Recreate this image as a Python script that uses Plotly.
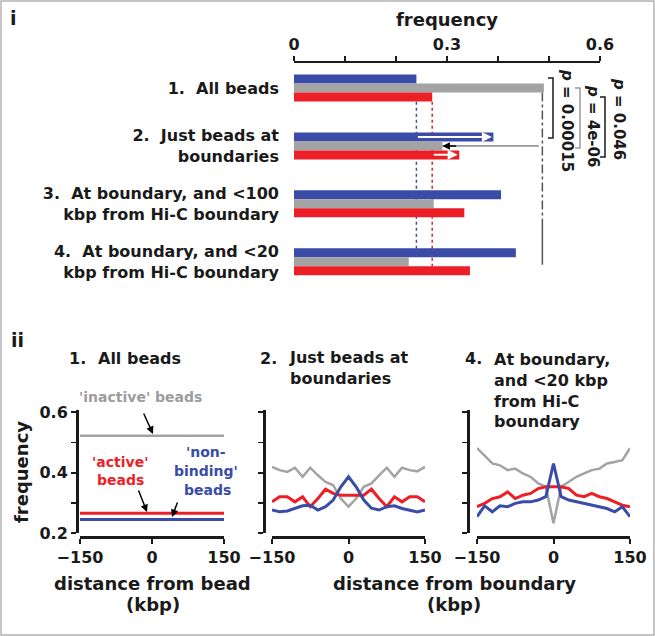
import plotly.graph_objects as go

W, H = 655, 636
def px(x): return x / W
def py(y): return 1 - y / H

FONT = "DejaVu Sans"
BLACK = "#1a1a1a"
BLUE = "#3a4ba8"
RED = "#ec1f27"
GRAY = "#a3a3a3"

# ---------------- data: panel i (bars) ----------------
groups = [1, 2, 3, 4]
group_labels = [
    "1.\u00a0\u00a0All beads",
    "2.\u00a0\u00a0Just beads at<br>boundaries",
    "3.\u00a0\u00a0At boundary, and &lt;100<br>kbp from Hi-C boundary",
    "4.\u00a0\u00a0At boundary, and &lt;20<br>kbp from Hi-C boundary",
]
nonbinding_freq = [0.240, 0.391, 0.406, 0.435]
inactive_freq = [0.490, 0.291, 0.274, 0.225]
active_freq = [0.271, 0.324, 0.334, 0.345]
p_labels = ["<i>p</i> = 0.00015", "<i>p</i> = 4e-06", "<i>p</i> = 0.046"]

# ---------------- data: panel ii (profiles) ----------------
dist = [-150, -135, -120, -105, -90, -75, -60, -45, -30, -15, 0,
        15, 30, 45, 60, 75, 90, 105, 120, 135, 150]
p1_x = [-150, 150]
p1_inactive = [0.522, 0.522]
p1_active = [0.265, 0.265]
p1_nonbinding = [0.245, 0.245]

p2_inactive = [0.419, 0.408, 0.402, 0.416, 0.386, 0.416, 0.391, 0.369, 0.358, 0.314, 0.287,
               0.314, 0.353, 0.364, 0.391, 0.416, 0.386, 0.416, 0.408, 0.404, 0.419]
p2_nonbinding = [0.276, 0.270, 0.273, 0.281, 0.290, 0.292, 0.276, 0.287, 0.309, 0.353, 0.386,
                 0.353, 0.309, 0.282, 0.276, 0.287, 0.290, 0.281, 0.276, 0.270, 0.276]
p2_active = [0.303, 0.320, 0.320, 0.303, 0.320, 0.287, 0.314, 0.345, 0.331, 0.325, 0.325,
             0.325, 0.325, 0.345, 0.314, 0.287, 0.320, 0.303, 0.320, 0.320, 0.303]

p4_inactive = [0.481, 0.457, 0.430, 0.424, 0.408, 0.413, 0.397, 0.386, 0.364, 0.353, 0.232,
               0.353, 0.369, 0.386, 0.397, 0.408, 0.413, 0.430, 0.435, 0.441, 0.481]
p4_nonbinding = [0.254, 0.290, 0.270, 0.290, 0.287, 0.298, 0.303, 0.303, 0.309, 0.320, 0.430,
                 0.320, 0.309, 0.303, 0.298, 0.292, 0.287, 0.281, 0.270, 0.287, 0.254]
p4_active = [0.287, 0.298, 0.314, 0.320, 0.336, 0.314, 0.325, 0.331, 0.347, 0.353, 0.353,
             0.353, 0.347, 0.325, 0.320, 0.331, 0.320, 0.314, 0.303, 0.292, 0.287]

fig = go.Figure()

# ---------------- panel i bars ----------------
for vals, col in [(nonbinding_freq, BLUE), (inactive_freq, GRAY), (active_freq, RED)]:
    fig.add_trace(go.Bar(y=groups, x=vals, orientation="h", marker=dict(color=col, line=dict(width=0)),
                         xaxis="x", yaxis="y", showlegend=False, hoverinfo="skip"))

# ---------------- panel ii lines ----------------
def add_lines(xs, ys_list, xa, ya, widths):
    for ys, col, w in zip(ys_list, [GRAY, RED, BLUE], widths):
        fig.add_trace(go.Scatter(x=xs, y=ys, mode="lines", line=dict(color=col, width=w),
                                 xaxis=xa, yaxis=ya, showlegend=False, hoverinfo="skip"))

add_lines(p1_x, [p1_inactive, p1_active, p1_nonbinding], "x2", "y2", [2.5, 3, 3])
add_lines(dist, [p2_inactive, p2_active, p2_nonbinding], "x3", "y3", [2.5, 3, 3])
add_lines(dist, [p4_inactive, p4_active, p4_nonbinding], "x4", "y4", [2.5, 3, 3])

tickfont = dict(family=FONT, size=16, color=BLACK, weight="bold")

layout = dict(
    width=W, height=H, margin=dict(l=0, r=0, t=0, b=0, pad=0, autoexpand=False),
    autosize=False, showlegend=False,
    paper_bgcolor="white", plot_bgcolor="rgba(0,0,0,0)",
    barmode="group", bargap=0.534, bargroupgap=0,
    xaxis=dict(domain=[px(294), px(600)], range=[0, 0.6], side="top", anchor="y", automargin=False,
               showline=True, linecolor=BLACK, linewidth=2, showgrid=False, zeroline=False,
               tickvals=[0, 0.3, 0.6], ticktext=["0", "0.3", "0.6"], ticks="outside", ticklen=5,
               tickwidth=2, tickcolor=BLACK, tickfont=tickfont,
               minor=dict(tickvals=[0.1, 0.2, 0.4, 0.5], ticks="outside", ticklen=5, tickwidth=1.5,
                          tickcolor=BLACK)),
    yaxis=dict(domain=[py(285), py(63)], range=[4.4, 0.57], anchor="x", showline=False, automargin=False,
               showgrid=False, zeroline=False, tickvals=groups, ticktext=group_labels,
               ticks="", tickfont=tickfont, ticklabelstandoff=14),
)

def bottom_axes(n, xd, yline, xline, labels):
    layout[f"xaxis{n}"] = dict(domain=[px(xd[0]), px(xd[1])], range=[-150, 150], anchor="free",
                               position=py(yline), showline=True, linecolor=BLACK, linewidth=3,
                               showgrid=False, zeroline=False, tickvals=[-150, 0, 150], automargin=False,
                               ticks="outside", ticklen=5, tickwidth=2, tickcolor=BLACK,
                               tickfont=tickfont)
    layout[f"yaxis{n}"] = dict(domain=[py(533), py(410)], range=[0.2, 0.607], anchor="free",
                               position=px(xline), showline=True, linecolor=BLACK, linewidth=3,
                               showgrid=False, zeroline=False, tickvals=[0.2, 0.4, 0.6], automargin=False,
                               ticks="outside", ticklen=5, tickwidth=2, tickcolor=BLACK,
                               tickfont=tickfont, showticklabels=labels,
                               minor=dict(tickvals=[0.3, 0.5], ticks="outside", ticklen=5,
                                          tickwidth=1.5, tickcolor=BLACK))

bottom_axes(2, (80, 224), 537, 77, True)
bottom_axes(3, (272, 425), 537, 264, False)
bottom_axes(4, (477, 630), 537, 468, False)

fig.update_layout(**layout)

# ---------------- shapes ----------------
shapes = []
# frame
shapes.append(dict(type="rect", xref="paper", yref="paper", x0=px(1), x1=px(654), y0=py(1), y1=py(635),
                   line=dict(color="#b4b4b4", width=1.5)))
# dotted reference lines
shapes.append(dict(type="line", xref="x", yref="y", x0=nonbinding_freq[0], x1=nonbinding_freq[0],
                   y0=1.24, y1=3.77, line=dict(color=BLUE, width=1.5, dash="dot"), layer="below"))
shapes.append(dict(type="line", xref="x", yref="y", x0=active_freq[0], x1=active_freq[0],
                   y0=1.24, y1=4.08, line=dict(color=RED, width=1.5, dash="dot"), layer="below"))
shapes.append(dict(type="line", xref="x", yref="y", x0=inactive_freq[0] - 0.003, x1=inactive_freq[0] - 0.003,
                   y0=1.08, y1=3.4, line=dict(color="#555555", width=1.5, dash="dashdot"), layer="below"))
shapes.append(dict(type="line", xref="x", yref="y", x0=inactive_freq[0] - 0.003, x1=inactive_freq[0] - 0.003,
                   y0=3.4, y1=4.05, line=dict(color="#555555", width=1.5), layer="below"))
# gray line showing drop of inactive fraction
shapes.append(dict(type="line", xref="x", yref="y", x0=inactive_freq[1], x1=0.48, y0=2, y1=2,
                   line=dict(color="#999999", width=1.8)))
# brackets
for xb, yt, yb, col in [(553, 78, 138, BLACK), (580, 88, 148, "#9a9a9a"), (605, 97, 157, BLACK)]:
    shapes.append(dict(type="path", xref="paper", yref="paper",
                       path=f"M {px(xb-5)},{py(yt)} L {px(xb)},{py(yt)} L {px(xb)},{py(yb)} L {px(xb-5)},{py(yb)}",
                       line=dict(color=col, width=1.5)))
fig.update_layout(shapes=shapes)

# ---------------- annotations ----------------
ann = []
def txt(x, y, s, size=16, color=BLACK, xanchor="center", align="center", angle=0):
    ann.append(dict(x=px(x), y=py(y), xref="paper", yref="paper", text=s, showarrow=False,
                    xanchor=xanchor, yanchor="middle", align=align, textangle=angle,
                    font=dict(family=FONT, size=size, color=color, weight="bold")))

txt(13, 18, "i", size=19)
txt(447, 20, "frequency", size=18)
txt(17, 340, "ii", size=19)
for (xc, yc), s in zip([(567, 120), (593, 126), (619, 119)], p_labels):
    txt(xc, yc, s, size=15, angle=90)

# arrows in panel i
ann.append(dict(x=nonbinding_freq[1] - 0.003, y=1.845, ax=nonbinding_freq[0], ay=1.845, xref="x", yref="y",
                axref="x", ayref="y", text="", showarrow=True, arrowhead=2, arrowsize=1, arrowwidth=2,
                arrowcolor="white"))
ann.append(dict(x=active_freq[1] - 0.003, y=2.155, ax=active_freq[0], ay=2.155, xref="x", yref="y",
                axref="x", ayref="y", text="", showarrow=True, arrowhead=2, arrowsize=1, arrowwidth=2,
                arrowcolor="white"))
ann.append(dict(x=inactive_freq[1], y=2, ax=inactive_freq[1] + 0.03, ay=2, xref="x", yref="y",
                axref="x", ayref="y", text="", showarrow=True, arrowhead=2, arrowsize=1, arrowwidth=1.5,
                arrowcolor="black"))

# panel titles
txt(67, 358, "1.", xanchor="left")
txt(96, 358, "All beads", xanchor="left")
txt(258, 358, "2.", xanchor="left")
txt(287, 368, "Just beads at<br>boundaries", xanchor="left", align="left")
txt(463, 358, "4.", xanchor="left")
txt(492, 390, "At boundary,<br>and &lt;20 kbp<br>from Hi-C<br>boundary", xanchor="left", align="left")

# axis titles
txt(22, 472, "frequency", size=18, angle=-90)
txt(152, 583, "distance from bead", size=18)
txt(153, 604, "(kbp)", size=18)
txt(454, 583, "distance from boundary", size=18)
txt(454, 604, "(kbp)", size=18)

# series labels in panel 1
txt(140, 397, "'inactive' beads", size=14, color="#9c9c9c")
txt(120, 462, "'active'", size=14, color=RED)
txt(120, 480, "beads", size=14, color=RED)
txt(206, 452, "'non-", size=14, color=BLUE)
txt(206, 471, "binding'", size=14, color=BLUE)
txt(207, 490, "beads", size=14, color=BLUE)

for (hx, hy, axo, ayo) in [(153, 434, -10, -22), (147, 512, -9, -23), (172, 517, 6, -16)]:
    ann.append(dict(x=px(hx), y=py(hy), xref="paper", yref="paper", ax=axo, ay=ayo, text="",
                    showarrow=True, arrowhead=2, arrowsize=1, arrowwidth=1.5, arrowcolor="black"))

fig.update_layout(annotations=ann)
fig.write_html("out.html", config={"displayModeBar": False, "staticPlot": True},
               post_script="document.body.style.margin='0';document.body.style.overflow='hidden';")
